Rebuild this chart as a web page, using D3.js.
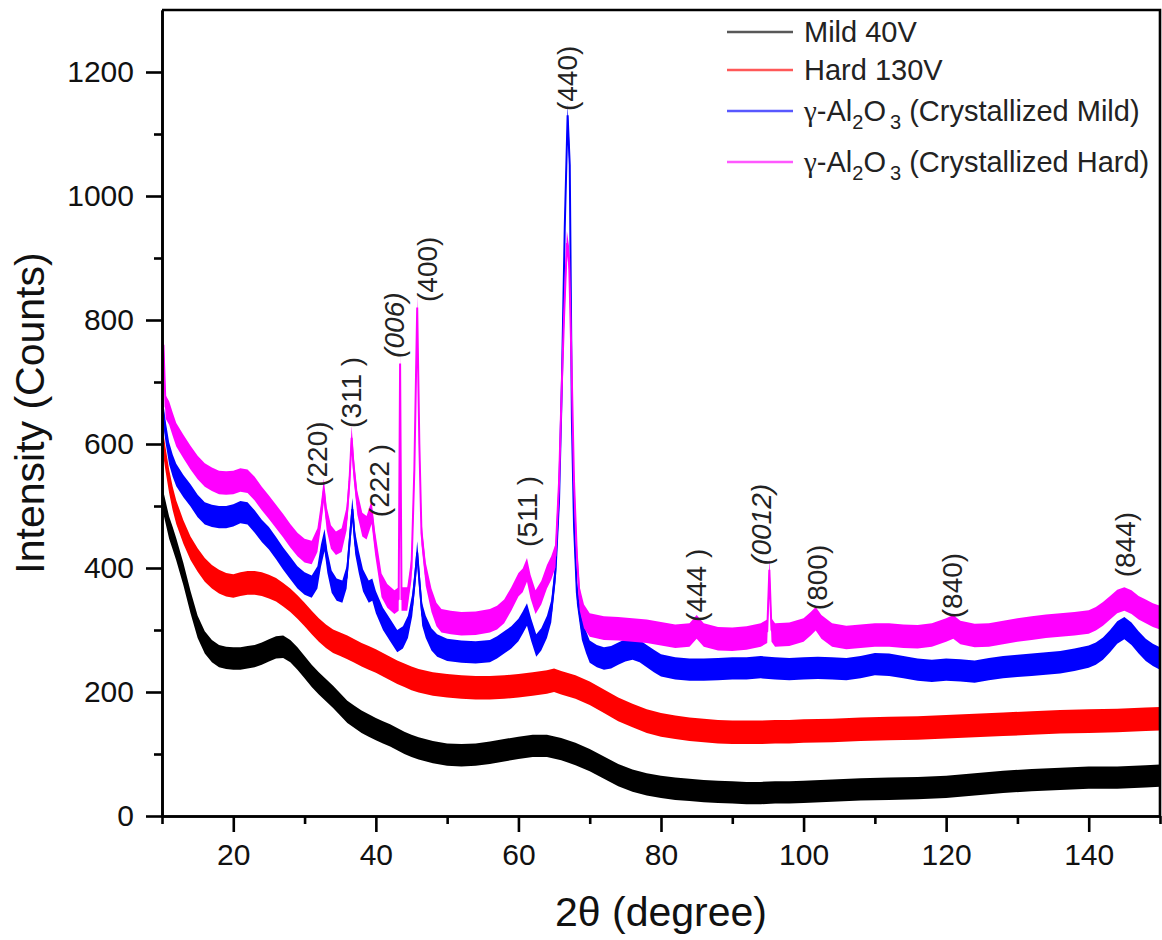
<!DOCTYPE html>
<html>
<head>
<meta charset="utf-8">
<script src="https://cdn.jsdelivr.net/npm/d3@7"></script>
<style>
  body { margin: 0; background: #fff; }
  svg { display: block; font-family: "Liberation Sans", Arial, sans-serif; }
</style>
</head>
<body>
<svg id="chart" width="1162" height="940"></svg>
<script>
// series: [2theta (deg), intensity (counts)]
const mild40V = [
  [10,515],[10.5,490],[11,465],[11.5,448],[12,430],[13,390],[14,345],[15,305],[16,280],[17,266],
  [18,258],[19,255],[20,254],[21,254],[22,256],[23,258],[24,262],[25,267],[26,272],[27,273],
  [28,266],[29,254],[30,240],[31,226],[32,214],[33,203],[34,192],[35,180],[36,168],[37,160],
  [38,152],[39,146],[40,140],[41,135],[42,130],[43,124],[44,118],[45,113],[46,109],[48,103],
  [50,99],[52,98],[54,99],[56,102],[58,106],[60,110],[62,113],[64,113],[66,108],[68,100],
  [70,90],[72,78],[74,66],[76,57],[78,51],[80,47],[82,44],[84,42],[86,40],[88,39],
  [90,38],[92,37],[94,37],[96,38],[98,38],[100,39],[104,41],[108,43],[112,44],[116,45],
  [120,47],[124,51],[128,55],[132,58],[136,60],[140,62],[144,62],[148,64],[150,65]
];
const hard130V = [
  [10,615],[10.5,575],[11,540],[11.5,512],[12,490],[13,458],[14,432],[15,413],[16,397],[17,386],
  [18,378],[19,373],[20,371],[21,374],[22,376],[23,376],[24,374],[25,370],[26,365],[27,357],
  [28,348],[29,337],[30,325],[31,312],[32,300],[33,290],[34,282],[35,277],[36,272],[37,266],
  [38,260],[39,255],[40,250],[41,244],[42,238],[43,232],[44,227],[45,222],[46,218],[48,213],
  [50,210],[52,208],[54,207],[56,207],[58,208],[60,210],[62,213],[64,216],[65,219],[66,215],
  [68,208],[70,198],[72,185],[74,172],[76,162],[78,153],[80,147],[82,143],[84,140],[86,138],
  [88,136],[90,135],[92,135],[94,135],[96,136],[98,136],[100,137],[104,138],[108,140],[112,141],
  [116,142],[120,144],[124,146],[128,148],[132,150],[136,152],[140,153],[144,154],[148,156],[150,157]
];
const crystMild = [
  [10,665],[10.5,620],[11,585],[11.5,565],[12,550],[13,532],[14,517],[15,500],[16,488],[17,484],
  [18,482],[19,482],[20,485],[21,490],[22,488],[23,475],[24,460],[25,448],[26,432],[27,415],
  [28,400],[29,385],[30,375],[31,370],[31.8,385],[32.3,420],[32.8,445],[33.2,410],[33.8,378],[34.5,365],
  [35.3,362],[35.9,385],[36.3,440],[36.7,495],[37.1,440],[37.6,410],[38.2,380],[39,362],[39.5,365],[40,345],
  [41,318],[42,300],[43,282],[43.8,288],[44.5,305],[45.1,340],[45.5,385],[45.8,425],[46.1,380],[46.5,325],
  [47,305],[47.8,285],[48.6,275],[50,268],[52,265],[54,264],[56,266],[57,272],[58,280],[59,288],
  [60,300],[60.6,312],[61.2,325],[61.8,300],[62.5,275],[63.2,285],[64,305],[64.6,330],[65.2,395],[65.7,510],
  [66.1,700],[66.5,950],[66.9,1130],[67.2,1050],[67.5,640],[67.8,468],[68.2,360],[68.9,302],[69.5,280],[70,265],
  [71,258],[72,254],[73,256],[74,262],[75,267],[76,270],[77,266],[78,258],[79,250],[80,243],
  [82,238],[84,236],[86,236],[88,237],[90,238],[92,238],[94,240],[96,238],[98,237],[100,238],
  [102,239],[104,238],[106,237],[108,240],[110,245],[112,244],[114,240],[116,236],[118,234],[120,236],
  [122,235],[124,233],[126,237],[128,240],[130,242],[132,244],[134,246],[136,248],[138,252],[140,257],
  [141,262],[142,270],[143,282],[144,296],[145,303],[146,294],[147,280],[148,268],[149,260],[150,254]
];
const crystHard = [
  [10,690],[10.2,760],[10.5,660],[11,650],[11.5,632],[12,615],[13,596],[14,578],[15,562],[16,550],
  [17,543],[18,538],[19,537],[20,538],[21,542],[22,540],[23,528],[24,512],[25,498],[26,483],
  [27,468],[28,452],[29,438],[30,428],[31,425],[31.8,445],[32.3,485],[32.7,525],[33.1,480],[33.7,450],
  [34.4,440],[35.2,445],[35.9,480],[36.3,540],[36.6,610],[36.9,560],[37.4,505],[38.1,470],[38.7,465],[39.4,490],
  [39.9,440],[40.8,372],[41.6,355],[42.6,345],[43.2,350],[43.4,730],[43.6,350],[44.4,350],[45,400],[45.4,558],
  [45.8,820],[46.1,600],[46.4,456],[47,390],[47.8,348],[48.5,325],[49.2,315],[50.5,312],[52,310],[54,311],
  [56,315],[57,320],[58,330],[59,350],[60,373],[60.6,380],[61.2,397],[61.7,370],[62.4,345],[63.2,360],
  [64,386],[64.6,400],[65.2,420],[65.7,539],[66.1,700],[66.4,805],[66.8,924],[67.1,900],[67.4,755],[67.8,539],
  [68.2,420],[68.6,350],[69.2,322],[70,308],[72,303],[74,302],[76,300],[78,298],[80,294],[82,290],
  [84,292],[85,305],[86,292],[88,286],[90,285],[92,287],[94,292],[94.9,298],[95.2,397],[95.5,300],
  [96,292],[98,293],[100,300],[101,310],[101.7,318],[102.5,305],[104,292],[106,288],[108,290],[110,292],
  [112,292],[114,290],[116,289],[118,292],[120,300],[121,305],[122,296],[124,291],[126,292],[128,296],
  [130,300],[132,303],[134,306],[136,308],[138,310],[140,313],[141,318],[142,326],[143,336],[144,346],
  [145,350],[146,345],[147,336],[148,330],[149,324],[150,320]
];

const seriesNames = ["Mild 40V", "Hard 130V", "γ-Al2O3 (Crystallized Mild)", "γ-Al2O3 (Crystallized Hard)"];
const seriesColors = ["#000000", "#ff0000", "#0000ff", "#ff00ff"];
// half-width of the noise band of each pattern, in counts
const noiseSpread = [18, 19, 18, 19];

// peak indexing: label, 2theta at label centre, counts at label foot
const peakLabels = ["(220)", "(311 )", "(222 )", "(006)", "(400)", "(511 )", "(440)", "(444 )", "(0012)", "(800)", "(840)", "(844)"];
const peakAngles = [31.8, 36.6, 40.5, 42.6, 47.2, 61.2, 66.8, 85.0, 94.1, 101.9, 120.9, 145.1];
const peakLabelBase = [531, 626, 482, 739, 829, 434, 1137, 313, 405, 332, 319, 385];
const peakItalic = ["(006)", "(0012)"];

const xTicks = [20, 40, 60, 80, 100, 120, 140];
const xMinor = [10, 30, 50, 70, 90, 110, 130, 150];
const yTicks = [0, 200, 400, 600, 800, 1000, 1200];
const yMinor = [100, 300, 500, 700, 900, 1100];

const svg = d3.select("#chart");
const plotLeft = 162, plotRight = 1160, plotTop = 10, plotBottom = 816;

const x = d3.scaleLinear().domain([10, 150]).range([plotLeft, plotRight]);
const y = d3.scaleLinear().domain([0, 1300]).range([plotBottom, plotTop]);

svg.append("clipPath").attr("id", "plot-clip")
  .append("rect").attr("x", plotLeft).attr("y", plotTop)
  .attr("width", plotRight - plotLeft).attr("height", plotBottom - plotTop);

const plot = svg.append("g").attr("clip-path", "url(#plot-clip)");

[mild40V, hard130V, crystMild, crystHard].forEach((data, i) => {
  const s = noiseSpread[i];
  const band = d3.area()
    .x((d) => x(d[0]))
    .y0((d) => y(d[1] - s))
    .y1((d) => y(d[1] + s));
  const line = d3.line()
    .x((d) => x(d[0]))
    .y((d) => y(d[1]));
  plot.append("path")
    .datum(data)
    .attr("fill", seriesColors[i])
    .attr("d", band);
  plot.append("path")
    .datum(data)
    .attr("fill", "none")
    .attr("stroke", seriesColors[i])
    .attr("stroke-width", 2)
    .attr("d", line);
});

// axes
const axisStyle = (g) => {
  g.selectAll("path, line").attr("stroke", "#000").attr("stroke-width", 2.6);
  g.selectAll("text").attr("font-size", 30).attr("fill", "#111")
    .attr("font-family", '"Liberation Sans", Arial, sans-serif');
};

svg.append("g").attr("transform", `translate(0,${plotBottom})`)
  .call(d3.axisBottom(x).tickValues(xTicks).tickSize(16).tickSizeOuter(0).tickPadding(12).tickFormat(d3.format("d")))
  .call(axisStyle);
svg.append("g").attr("transform", `translate(0,${plotBottom})`)
  .call(d3.axisBottom(x).tickValues(xMinor).tickSize(8).tickSizeOuter(0).tickFormat(""))
  .call(axisStyle);
svg.append("g").attr("transform", `translate(${plotLeft},0)`)
  .call(d3.axisLeft(y).tickValues(yTicks).tickSize(16).tickSizeOuter(0).tickPadding(12).tickFormat(d3.format("d")))
  .call(axisStyle);
svg.append("g").attr("transform", `translate(${plotLeft},0)`)
  .call(d3.axisLeft(y).tickValues(yMinor).tickSize(8).tickSizeOuter(0).tickFormat(""))
  .call(axisStyle);

// frame top and right
svg.append("path")
  .attr("d", `M${plotLeft},${plotTop}H${plotRight}V${plotBottom}`)
  .attr("fill", "none").attr("stroke", "#000").attr("stroke-width", 2.6);

// axis titles
svg.append("text")
  .attr("x", (plotLeft + plotRight) / 2).attr("y", 926)
  .attr("text-anchor", "middle").attr("font-size", 41).attr("fill", "#111")
  .text("2θ (degree)");
svg.append("text")
  .attr("transform", `translate(44,${(plotTop + plotBottom) / 2}) rotate(-90)`)
  .attr("text-anchor", "middle").attr("font-size", 41).attr("fill", "#111")
  .text("Intensity (Counts)");

// peak labels
peakLabels.forEach((label, i) => {
  svg.append("text")
    .attr("transform", `translate(${x(peakAngles[i])},${y(peakLabelBase[i])}) rotate(-90)`)
    .attr("dy", "0.35em")
    .attr("font-size", 28)
    .attr("fill", "#222")
    .attr("font-style", peakItalic.includes(label) ? "italic" : null)
    .text(label);
});

// legend
const legendRows = [42, 80, 121, 172];
const legend = svg.append("g");
seriesNames.forEach((name, i) => {
  const by = legendRows[i];
  legend.append("line")
    .attr("x1", 727).attr("x2", 793)
    .attr("y1", by - 10).attr("y2", by - 10)
    .attr("stroke", seriesColors[i]).attr("stroke-width", 2.5).attr("opacity", 0.65);
  const t = legend.append("text").attr("x", 804).attr("y", by)
    .attr("font-size", 29).attr("fill", "#222");
  const sp = name.indexOf(" ");
  if (name.startsWith("γ")) {
    const formula = name.slice(0, sp);
    const rest = name.slice(sp);
    let shifted = false;
    for (const ch of formula) {
      if (/\d/.test(ch)) {
        t.append("tspan").attr("font-size", 20).attr("dy", shifted ? 0 : 8).attr("dx", ch === "3" ? 4 : 0).text(ch);
        shifted = true;
      } else {
        const ts = t.append("tspan").attr("dy", shifted ? -8 : 0).text(ch);
        if (ch === "γ") ts.attr("font-family", '"Liberation Serif", serif');
        shifted = false;
      }
    }
    t.append("tspan").attr("dy", shifted ? -8 : 0).text(rest);
  } else {
    t.text(name);
  }
});
</script>
</body>
</html>
